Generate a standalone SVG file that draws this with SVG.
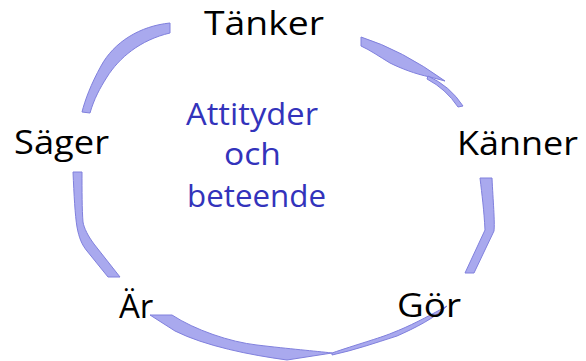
<svg xmlns="http://www.w3.org/2000/svg" width="586" height="361" viewBox="0 0 586 361">
<style>
.rib{fill:#a9a9ee;stroke:#8080dd;stroke-width:1;stroke-linejoin:round}
.lbl{font-family:"Open Sans","Noto Sans","DejaVu Sans",sans-serif;font-size:33px;fill:#000}
.ctr{font-family:"Open Sans","Noto Sans","DejaVu Sans",sans-serif;font-size:31px;fill:#3333bb}
</style>
<rect width="586" height="361" fill="#fff"/>
<g id="connectors">
<path class="rib" d="M170,23 C140,26 114,42 101,66 C91,84 85,100 82,112 L90,113 C94,99 100,88 107,77 C119,58 140,40 170,33 Z"/>
<path class="rib" d="M361,37 Q402,50 445,81 L430,77 C415,74 400,68 390,63 C380,57 370,50 361,46 Z"/>
<path class="rib" d="M428,76 Q450,86 463,106 L458,107 Q446,89 427,79 Z"/>
<path class="rib" d="M480,178 L492,178 C493,200 495,222 494,231 L474,273 L465,273 L485,230 C484,210 482,195 480,178 Z"/>
<path class="rib" d="M73,172 C74,195 75,215 77,227 C79,238 82,245 87,251 L108,277 L120,277 L94,244 C88,236 84,228 83,222 C82,210 82,190 82,172 Z"/>
<path class="rib" d="M150,315 L172,315 C195,330 230,342 257,345 C290,349 315,351 332,353 L287,360 C250,355 205,346 175,331 Z"/>
<path class="rib" d="M332,353 C355,345 380,338 392,333 C410,326 425,318 447,306 C435,318 415,328 397,336 C375,343 355,350 332,355 Z"/>
</g>
<g id="node-tanker"><text class="lbl" x="204" y="35" textLength="120" lengthAdjust="spacingAndGlyphs">Tänker</text></g>
<g id="node-kanner"><text class="lbl" x="457" y="155" textLength="121" lengthAdjust="spacingAndGlyphs">Känner</text></g>
<g id="node-sager"><text class="lbl" x="14" y="154" textLength="95" lengthAdjust="spacingAndGlyphs">Säger</text></g>
<g id="node-ar"><text class="lbl" x="119" y="318">Är</text></g>
<g id="node-gor"><text class="lbl" x="397" y="317" textLength="64" lengthAdjust="spacingAndGlyphs">Gör</text></g>
<g id="node-center">
<text class="ctr" x="186" y="125" textLength="132" lengthAdjust="spacingAndGlyphs">Attityder</text>
<text class="ctr" x="224" y="165" textLength="57" lengthAdjust="spacingAndGlyphs">och</text>
<text class="ctr" x="187" y="207" textLength="139" lengthAdjust="spacingAndGlyphs">beteende</text>
</g>
</svg>
